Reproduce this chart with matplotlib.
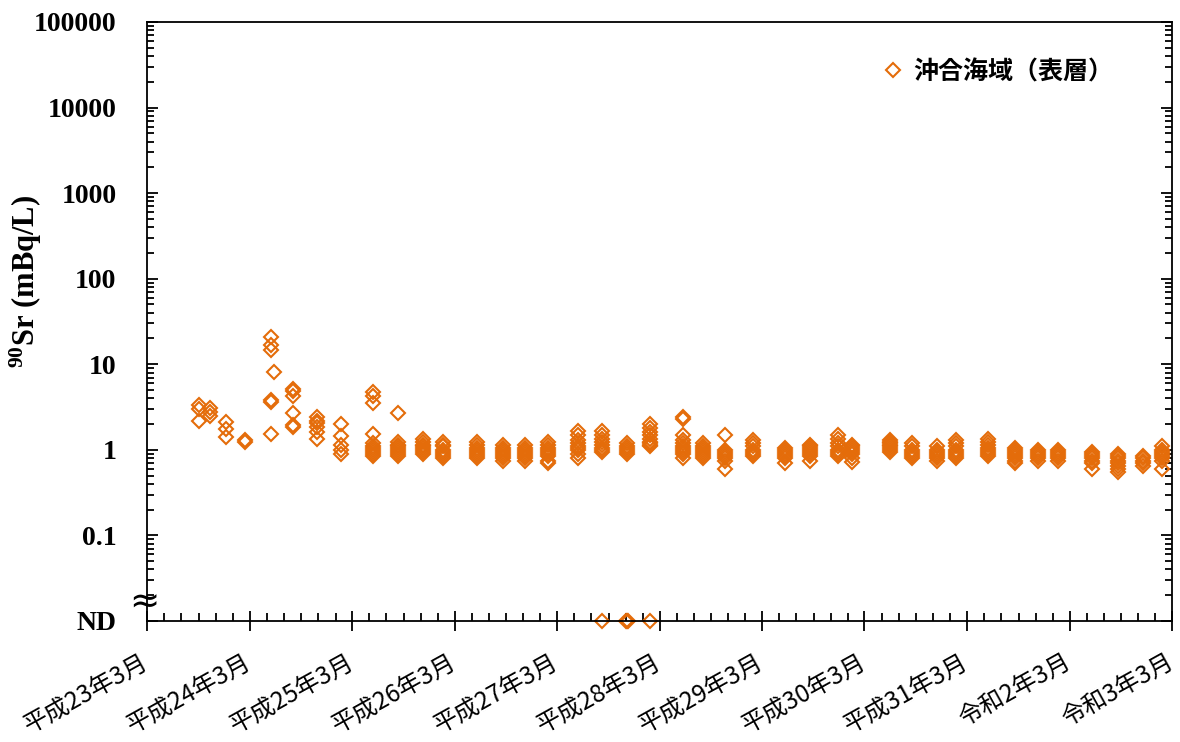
import numpy as np
import pandas as pd
import matplotlib
matplotlib.use('Agg')
import matplotlib.pyplot as plt
import matplotlib.dates as mdates
from matplotlib.ticker import FixedLocator, FuncFormatter, LogLocator, NullFormatter

plt.rcParams['mathtext.fontset'] = 'custom'
plt.rcParams['mathtext.rm'] = 'Liberation Serif:bold'
plt.rcParams['mathtext.it'] = 'Liberation Serif:bold'
plt.rcParams['mathtext.bf'] = 'Liberation Serif:bold'
plt.rcParams['mathtext.default'] = 'rm'

# sampling dates and 90Sr results (mBq/L), offshore surface water
dates = ['2011-09-04', '2011-10-10', '2011-12-08', '2012-02-12', '2012-05-16',
         '2012-05-26', '2012-08-03', '2012-10-28', '2013-01-19', '2013-05-15',
         '2013-08-12', '2013-11-10', '2014-01-20', '2014-05-19', '2014-08-22',
         '2014-11-08', '2015-01-28', '2015-05-16', '2015-08-09', '2015-11-06',
         '2016-01-28', '2016-05-23', '2016-08-01', '2016-10-21', '2017-01-28',
         '2017-05-21', '2017-08-19', '2017-11-28', '2018-01-16', '2018-06-01',
         '2018-08-18', '2018-11-15', '2019-01-22', '2019-05-15', '2019-08-19',
         '2019-11-10', '2020-01-19', '2020-05-19', '2020-08-19', '2020-11-19',
         '2021-01-25']
values = [
    [3.3, 3.0, 2.2],
    [3.1, 2.8, 2.5],
    [2.1, 1.75, 1.42],
    [1.32, 1.24],
    [21, 17, 14.5, 3.8, 3.6, 1.55],
    [8.2],
    [5.2, 4.9, 4.3, 2.7, 1.95, 1.85],
    [2.4, 2.2, 2.05, 1.85, 1.6, 1.35],
    [2.0, 1.45, 1.15, 1.0, 0.9],
    [4.8, 4.2, 3.5, 1.55, 1.2, 1.1, 1.05, 1.0, 0.95, 0.9, 0.85],
    [2.7, 1.25, 1.15, 1.1, 1.05, 1.0, 0.95, 0.9, 0.85],
    [1.35, 1.25, 1.15, 1.1, 1.05, 1.0, 0.95, 0.9],
    [1.25, 1.15, 1.1, 1.0, 0.95, 0.9, 0.85, 0.8],
    [1.25, 1.15, 1.05, 1.0, 0.95, 0.9, 0.85, 0.8],
    [1.15, 1.05, 1.0, 0.95, 0.9, 0.85, 0.8, 0.75],
    [1.15, 1.05, 1.0, 0.95, 0.9, 0.85, 0.8, 0.75],
    [1.25, 1.15, 1.05, 1.0, 0.95, 0.9, 0.85, 0.75, 0.7],
    [1.65, 1.5, 1.3, 1.2, 1.1, 1.05, 1.0, 0.9, 0.8],
    [1.65, 1.5, 1.35, 1.25, 1.15, 1.05, 1.0, 0.95],
    [1.2, 1.1, 1.05, 1.0, 0.95, 0.9],
    [2.0, 1.8, 1.6, 1.5, 1.35, 1.25, 1.2, 1.15, 1.1],
    [2.45, 2.3, 1.5, 1.3, 1.2, 1.1, 1.05, 1.0, 0.95, 0.9, 0.8],
    [1.2, 1.1, 1.05, 1.0, 0.95, 0.9, 0.85, 0.8],
    [1.5, 1.0, 0.95, 0.9, 0.85, 0.8, 0.75, 0.6],
    [1.3, 1.2, 1.1, 1.0, 0.95, 0.9, 0.85],
    [1.05, 1.0, 0.95, 0.9, 0.85, 0.8, 0.7],
    [1.15, 1.1, 1.05, 1.0, 0.95, 0.9, 0.85, 0.75],
    [1.5, 1.35, 1.2, 1.1, 1.0, 0.95, 0.9, 0.85],
    [1.15, 1.1, 1.05, 1.0, 0.95, 0.9, 0.8, 0.72],
    [1.3, 1.25, 1.2, 1.15, 1.1, 1.05, 1.0, 0.95],
    [1.2, 1.1, 1.0, 0.95, 0.9, 0.85, 0.8],
    [1.1, 1.0, 0.95, 0.9, 0.85, 0.8, 0.75],
    [1.3, 1.2, 1.1, 1.0, 0.95, 0.9, 0.85, 0.8],
    [1.35, 1.25, 1.15, 1.05, 1.0, 0.95, 0.9, 0.85],
    [1.05, 1.0, 0.95, 0.9, 0.85, 0.8, 0.75, 0.7],
    [1.0, 0.95, 0.9, 0.85, 0.8, 0.75],
    [1.0, 0.95, 0.9, 0.85, 0.8, 0.75],
    [0.95, 0.9, 0.85, 0.8, 0.75, 0.7, 0.6],
    [0.9, 0.85, 0.8, 0.75, 0.7, 0.65, 0.6, 0.55],
    [0.85, 0.8, 0.75, 0.7, 0.65],
    [1.1, 1.0, 0.95, 0.9, 0.85, 0.8, 0.75, 0.6],
]
# not detected samples
nd_dates = ['2015-08-09', '2015-11-03', '2015-11-06', '2015-11-09', '2016-01-28']
nd_level = 0.01

tick_dates = ['2011-03-01', '2012-03-01', '2013-03-01', '2014-03-01', '2015-03-01',
              '2016-03-01', '2017-03-01', '2018-03-01', '2019-03-01', '2020-03-01',
              '2021-03-01']
tick_labels = ['平成23年3月', '平成24年3月', '平成25年3月', '平成26年3月', '平成27年3月',
               '平成28年3月', '平成29年3月', '平成30年3月', '平成31年3月', '令和2年3月',
               '令和3年3月']

color = '#E46C0A'

x = []
y = []
for d, vals in zip(dates, values):
    for v in vals:
        x.append(pd.Timestamp(d))
        y.append(v)
nd_x = [pd.Timestamp(d) for d in nd_dates]

fig = plt.figure(figsize=(11.8, 7.42), dpi=100)
ax = fig.add_axes([0.1246, 0.1631, 0.8686, 0.8073])

ax.plot(x, y, linestyle='none', marker='D', mfc='none', mec=color, ms=7, mew=1.5,
        label='沖合海域（表層）')
ax.plot(nd_x, [nd_level] * len(nd_x), linestyle='none', marker='D', mfc='none',
        mec=color, ms=7, mew=1.5, clip_on=False)

ax.set_yscale('log')
ax.set_ylim(0.01, 100000)
ax.yaxis.set_major_locator(FixedLocator([0.01, 0.1, 1, 10, 100, 1000, 10000, 100000]))
ax.yaxis.set_minor_locator(LogLocator(base=10, subs=range(2, 10)))
ax.yaxis.set_minor_formatter(NullFormatter())
ax.yaxis.set_major_formatter(FuncFormatter(lambda v, p: 'ND' if v < 0.05 else '%g' % v))

t0 = pd.Timestamp(tick_dates[0])
t1 = pd.Timestamp(tick_dates[-1])
ax.set_xlim(t0, t1)
ax.set_xticks([pd.Timestamp(d) for d in tick_dates])
ax.set_xticklabels(tick_labels, rotation=29, ha='right', va='center', rotation_mode='anchor',
                   fontsize=17.5, family='Noto Sans CJK JP')
ax.xaxis.set_minor_locator(mdates.MonthLocator(bymonth=(1, 5, 7, 9, 11)))

for lab in ax.get_yticklabels():
    lab.set_family('Liberation Serif')
    lab.set_weight('bold')
    lab.set_fontsize(20)

for s in ax.spines.values():
    s.set_linewidth(1.3)

ax.tick_params(axis='y', which='both', direction='in', right=True, width=1.3, pad=22)
ax.tick_params(axis='y', which='major', length=8)
ax.tick_params(axis='y', which='minor', length=5)
ax.tick_params(axis='x', which='major', direction='inout', length=14, width=1.3, pad=22)
ax.tick_params(axis='x', which='minor', direction='in', length=6, width=1.3)

ax.set_ylabel('$^{90}$Sr (mBq/L)', family='Liberation Serif', fontweight='bold',
              fontsize=22)
ax.yaxis.set_label_coords(-0.101, 0.566)

# axis break mark next to ND
ax.text(-0.003, 0.03, '≈', transform=ax.transAxes, ha='center', va='center',
        fontsize=26, family='DejaVu Sans')

ax.legend(loc='center left', bbox_to_anchor=(0.716, 0.9165), frameon=False,
          borderaxespad=0, borderpad=0, handlelength=1, handletextpad=0.3,
          markerscale=1.0,
          prop={'family': 'Noto Sans CJK JP', 'weight': 'bold', 'size': 18})

fig.savefig('out.png', dpi=100)
